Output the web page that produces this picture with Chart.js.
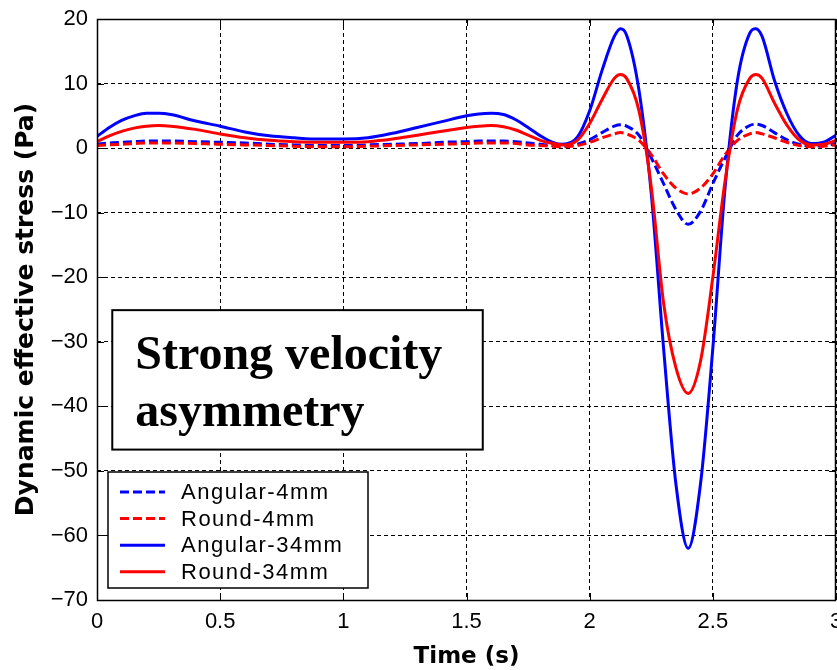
<!DOCTYPE html>
<html>
<head>
<meta charset="utf-8">
<script src="https://cdn.jsdelivr.net/npm/chart.js@4.4.1/dist/chart.umd.min.js"></script>
<style>
  html, body { margin: 0; padding: 0; background: #fff; overflow: hidden; }
  #wrap { position: relative; width: 837px; height: 670px; }
</style>
</head>
<body>
<div id="wrap"><canvas id="stress-chart"></canvas></div>
<script>
// time (s)
let times = [0, 0.05, 0.1, 0.15, 0.2, 0.25, 0.3,
  0.4, 0.5, 0.6, 0.7, 0.8, 0.9, 1.0, 1.1, 1.2, 1.3, 1.4, 1.5,
  1.55, 1.6, 1.65, 1.7, 1.75, 1.8, 1.85, 1.89, 1.95,
  2.0, 2.05, 2.1, 2.125, 2.15, 2.2, 2.25, 2.3, 2.35, 2.4, 2.45, 2.5,
  2.55, 2.6, 2.65, 2.675, 2.7, 2.75, 2.8, 2.85, 2.9, 2.95, 3.0];

// dynamic effective stress (Pa)
let angular4mm = [0.6, 0.8, 0.9, 1.0, 1.1, 1.1, 1.1,
  1.0, 0.9, 0.8, 0.6, 0.5, 0.4, 0.4, 0.5, 0.6, 0.7, 0.9, 1.0,
  1.1, 1.1, 1.1, 1.0, 0.8, 0.6, 0.4, 0.3, 0.6,
  1.3, 2.4, 3.4, 3.6, 3.4, 2.0, -1.5, -5.5, -9.5, -11.8, -9.8, -5.5,
  -1.5, 2.0, 3.5, 3.7, 3.5, 2.4, 1.3, 0.6, 0.3, 0.4, 0.7];

let round4mm = [0.4, 0.5, 0.6, 0.7, 0.8, 0.8, 0.8,
  0.7, 0.6, 0.5, 0.4, 0.3, 0.2, 0.2, 0.3, 0.4, 0.5, 0.6, 0.7,
  0.8, 0.8, 0.8, 0.7, 0.5, 0.4, 0.3, 0.2, 0.4,
  0.9, 1.6, 2.2, 2.4, 2.2, 1.2, -1.0, -4.0, -6.2, -7.1, -6.2, -4.0,
  -1.0, 1.2, 2.2, 2.4, 2.2, 1.6, 0.9, 0.4, 0.2, 0.3, 0.5];

let angular34mm = [1.8, 3.2, 4.3, 5.0, 5.4, 5.4, 5.2,
  4.2, 3.4, 2.5, 1.9, 1.6, 1.4, 1.4, 1.6, 2.3, 3.2, 4.1, 5.0,
  5.3, 5.4, 5.2, 4.4, 3.2, 1.9, 0.9, 0.6, 1.7,
  5.8, 12.0, 17.3, 18.5, 17.5, 9.0, -7.0, -31, -52, -62, -52, -31,
  -6, 10.5, 17.8, 18.5, 17.3, 10.5, 5.4, 2.0, 0.7, 0.9, 2.0];

let round34mm = [1.0, 1.9, 2.6, 3.1, 3.4, 3.5, 3.4,
  2.9, 2.2, 1.6, 1.2, 1.0, 0.9, 0.9, 1.0, 1.4, 2.0, 2.6, 3.2,
  3.4, 3.5, 3.3, 2.8, 2.0, 1.2, 0.7, 0.5, 1.2,
  3.8, 7.5, 10.8, 11.4, 10.8, 5.8, -6.0, -24, -34, -38, -33, -20,
  -5.0, 6.0, 10.8, 11.4, 10.8, 7.0, 3.6, 1.3, 0.5, 0.6, 1.2];

let seriesLabels = ["Angular-4mm", "Round-4mm", "Angular-34mm", "Round-34mm"];
let noteLines = ["Strong velocity", "asymmetry"];

const tickFont = { family: "'Liberation Sans', Arial, sans-serif", size: 22 };

function toPoints(values) {
  return times.map((t, i) => ({ x: t, y: values[i] }));
}

function makeSeries(label, values, color, dashed, order) {
  return {
    label: label,
    data: toPoints(values),
    borderColor: color,
    backgroundColor: color,
    borderWidth: 3,
    borderDash: dashed ? [9, 4] : [],
    pointRadius: 0,
    fill: false,
    cubicInterpolationMode: "monotone",
    order: order,
  };
}

// frame, inward ticks, text box and legend drawn over the plot
const overlayPlugin = {
  id: "overlay",
  afterDatasetsDraw(chart) {
    const { ctx, chartArea: a, scales } = chart;
    const xs = scales.x;
    const ys = scales.y;
    ctx.save();
    ctx.setLineDash([]);
    ctx.strokeStyle = "#000";
    ctx.lineWidth = 1;

    ctx.beginPath();
    xs.ticks.forEach((t) => {
      const px = Math.round(xs.getPixelForValue(t.value)) + 0.5;
      ctx.moveTo(px, a.bottom); ctx.lineTo(px, a.bottom - 7);
      ctx.moveTo(px, a.top); ctx.lineTo(px, a.top + 7);
    });
    ys.ticks.forEach((t) => {
      const py = Math.round(ys.getPixelForValue(t.value)) + 0.5;
      ctx.moveTo(a.left, py); ctx.lineTo(a.left + 7, py);
      ctx.moveTo(a.right, py); ctx.lineTo(a.right - 7, py);
    });
    ctx.stroke();
    ctx.lineWidth = 1.5;
    ctx.strokeRect(a.left + 0.5, a.top + 0.5, a.right - a.left - 1, a.bottom - a.top);

    // note box
    const bx0 = xs.getPixelForValue(0.062);
    const bx1 = xs.getPixelForValue(1.566);
    const by0 = ys.getPixelForValue(-25.1);
    const by1 = ys.getPixelForValue(-46.7);
    ctx.fillStyle = "#fff";
    ctx.fillRect(bx0, by0, bx1 - bx0, by1 - by0);
    ctx.lineWidth = 2;
    ctx.strokeRect(bx0, by0, bx1 - bx0, by1 - by0);
    ctx.fillStyle = "#000";
    ctx.font = "bold 48px 'Liberation Serif', 'Times New Roman', serif";
    ctx.textAlign = "left";
    ctx.textBaseline = "alphabetic";
    ctx.fillText(noteLines[0], bx0 + 23, by0 + 59);
    ctx.fillText(noteLines[1], bx0 + 23, by0 + 116);

    // legend
    const lx = a.left + 11;
    const lw = 260;
    const lh = 116;
    const ly = a.bottom - 12 - lh;
    ctx.fillStyle = "#fff";
    ctx.fillRect(lx, ly, lw, lh);
    ctx.lineWidth = 1.5;
    ctx.strokeRect(lx, ly, lw, lh);
    ctx.font = "22px 'Liberation Sans', Arial, sans-serif";
    ctx.textBaseline = "middle";
    ctx.letterSpacing = "1.5px";
    seriesLabels.forEach((lbl, i) => {
      const ds = chart.data.datasets[i];
      const ry = ly + 20 + i * 26.6;
      ctx.strokeStyle = ds.borderColor;
      ctx.lineWidth = 3;
      ctx.setLineDash(ds.borderDash);
      ctx.beginPath();
      ctx.moveTo(lx + 12, ry);
      ctx.lineTo(lx + 57, ry);
      ctx.stroke();
      ctx.setLineDash([]);
      ctx.fillStyle = "#000";
      ctx.fillText(lbl, lx + 73, ry + 1);
    });
    ctx.restore();
  },
};

let stressChart = new Chart("stress-chart", {
  type: "line",
  data: {
    datasets: [
      makeSeries(seriesLabels[0], angular4mm, "#0000ff", true, 3),
      makeSeries(seriesLabels[1], round4mm, "#ff0000", true, 2),
      makeSeries(seriesLabels[2], angular34mm, "#0000ff", false, 1),
      makeSeries(seriesLabels[3], round34mm, "#ff0000", false, 0),
    ],
  },
  options: {
    responsive: true,
    maintainAspectRatio: false,
    animation: false,
    devicePixelRatio: 1,
    layout: { padding: { top: 19, right: 1, bottom: 0, left: 0 } },
    plugins: {
      legend: { display: false },
      tooltip: { enabled: false },
    },
    scales: {
      x: {
        type: "linear",
        min: 0,
        max: 3,
        ticks: {
          stepSize: 0.5,
          color: "#000",
          font: tickFont,
          padding: 9,
          maxRotation: 0,
          callback: (v) => String(v),
        },
        grid: { color: "#000", lineWidth: 1, drawTicks: false },
        border: { display: false, dash: [4, 3] },
        title: {
          display: true,
          text: "Time (s)",
          color: "#000",
          font: { family: "'DejaVu Sans', sans-serif", size: 23, weight: "bold", lineHeight: 1.1 },
          padding: { top: 0, bottom: 0 },
        },
        afterFit(scale) {
          scale.height = 70;
          scale.paddingLeft = 0;
          scale.paddingRight = 0;
        },
      },
      y: {
        min: -70,
        max: 20,
        ticks: {
          stepSize: 10,
          color: "#000",
          font: tickFont,
          padding: 9,
          callback: (v) => String(v).replace("-", "\u2212"),
        },
        grid: { color: "#000", lineWidth: 1, drawTicks: false },
        border: { display: false, dash: [4, 3] },
        title: {
          display: true,
          text: "Dynamic effective stress (Pa)",
          color: "#000",
          font: { family: "'DejaVu Sans', sans-serif", size: 25, weight: "bold" },
          padding: { top: 11, bottom: 0 },
        },
        afterFit(scale) {
          scale.width = 97;
          scale.paddingTop = 0;
          scale.paddingBottom = 0;
        },
      },
    },
  },
  plugins: [overlayPlugin],
});
</script>
</body>
</html>
